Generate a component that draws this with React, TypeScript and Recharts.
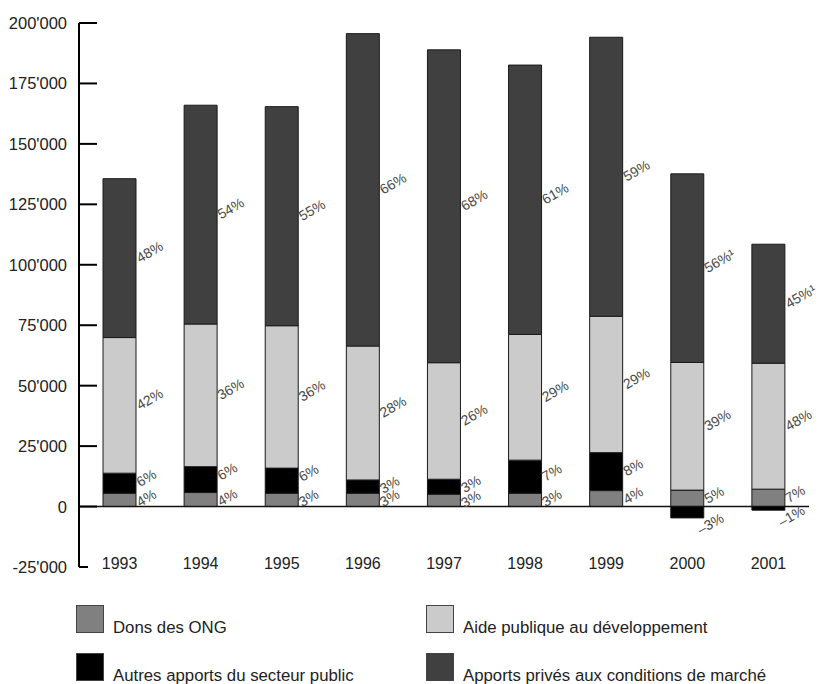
import { Bar, BarChart, LabelList, Legend, ReferenceLine, XAxis, YAxis } from "recharts";

// Flux financiers vers les pays en développement (en millions)
const years = ["1993", "1994", "1995", "1996", "1997", "1998", "1999", "2000", "2001"];
const donsOng = [5500, 5800, 5500, 5500, 5100, 5500, 6600, 6800, 7200];
const autresPublic = [8300, 10700, 10400, 5500, 6200, 13700, 15700, -4700, -1500];
const aidePublique = [56100, 59000, 58900, 55400, 48200, 52000, 56400, 52800, 52100];
const apportsPrives = [65700, 90500, 90600, 129200, 129400, 111400, 115400, 78000, 49200];

// parts en % affichées à côté des barres
const donsOngPct = ["4%", "4%", "3%", "3%", "3%", "3%", "4%", "5%", "7%"];
const autresPublicPct = ["6%", "6%", "6%", "3%", "3%", "7%", "8%", "–3%", "–1%"];
const aidePubliquePct = ["42%", "36%", "36%", "28%", "26%", "29%", "29%", "39%", "48%"];
const apportsPrivesPct = ["48%", "54%", "55%", "66%", "68%", "61%", "59%", "56%¹", "45%¹"];

const yTicks = [-25000, 0, 25000, 50000, 75000, 100000, 125000, 150000, 175000, 200000];

const SERIES = [
	{ key: "dons", name: "Dons des ONG", fill: "#808080", values: donsOng },
	{ key: "autres", name: "Autres apports du secteur public", fill: "#000000", values: autresPublic },
	{ key: "aide", name: "Aide publique au développement", fill: "#cbcbcb", values: aidePublique },
	{ key: "prives", name: "Apports privés aux conditions de marché", fill: "#404040", values: apportsPrives },
];

const data = years.map((year, i) => ({
	year,
	dons: donsOng[i],
	autres: autresPublic[i],
	aide: aidePublique[i],
	prives: apportsPrives[i],
	donsPct: donsOngPct[i],
	autresPct: autresPublicPct[i],
	aidePct: aidePubliquePct[i],
	privesPct: apportsPrivesPct[i],
}));

const FONT = "'Liberation Sans', Arial, sans-serif";

const formatThousands = (v: number) =>
	(v < 0 ? "-" : "") + Math.abs(v).toString().replace(/\B(?=(\d{3})+(?!\d))/g, "'");

function YTick(props: any) {
	const { x, y, payload } = props;
	const len = payload.value === yTicks[0] ? 9 : 18;
	return (
		<g>
			<line x1={x} x2={x + len} y1={y} y2={y} stroke="#000" strokeWidth={2} />
			<text x={x - 12} y={y + 6} textAnchor="end" fill="#222" fontSize={16.5} fontFamily={FONT}>
				{formatThousands(payload.value)}
			</text>
		</g>
	);
}

function XTick(props: any) {
	const { x, y, payload } = props;
	return (
		<text x={x} y={y + 2} textAnchor="middle" fill="#222" fontSize={16} fontFamily={FONT}>
			{payload.value}
		</text>
	);
}

// étiquette inclinée à droite de chaque segment
function makePctLabel(values: number[]) {
	return (props: any) => {
		const { x, y, width, height, value, index } = props;
		if (value == null) return null;
		const top = Math.min(y, y + height);
		const bottom = Math.max(y, y + height);
		const right = x + width;
		let sx = right + 4;
		// petits segments : étiquette calée sur le haut du segment
		let sy = bottom - top < 30 ? top + 14 : (top + bottom) / 2 + 5;
		if (values[index] < 0) {
			sx = right - 3;
			sy = bottom + 17;
		}
		return (
			<text
				x={sx}
				y={sy}
				transform={`rotate(-30 ${sx} ${sy})`}
				fill="#4a4a4a"
				fontSize={14}
				fontFamily={FONT}
			>
				{value}
			</text>
		);
	};
}

function renderLegend(props: any) {
	const payload = props.payload ?? [];
	return (
		<div style={{ position: "relative", width: 822, height: 684 }}>
			{payload.map((entry: any) => {
				const i = SERIES.findIndex((s) => s.name === entry.value);
				const col = Math.floor(i / 2);
				const row = i % 2;
				return (
					<div
						key={entry.value}
						style={{
							position: "absolute",
							left: 76 + col * 350,
							top: 605 + row * 48,
							display: "flex",
							alignItems: "baseline",
							whiteSpace: "nowrap",
						}}
					>
						<span
							style={{
								display: "inline-block",
								width: 26,
								height: 26,
								background: SERIES[i].fill,
								border: "1.5px solid #444",
							}}
						/>
						<span
							style={{
								marginLeft: 9,
								fontSize: 16.8,
								lineHeight: 1,
								color: "#222",
								fontFamily: FONT,
							}}
						>
							{entry.value}
						</span>
					</div>
				);
			})}
		</div>
	);
}

export default function App() {
	return (
		<div style={{ position: "absolute", left: 0, top: 0, width: 822, height: 684, background: "#fff" }}>
			<BarChart
				width={822}
				height={684}
				data={data}
				stackOffset="sign"
				margin={{ top: 23, right: 13, bottom: 87, left: 0 }}
			>
				<XAxis
					dataKey="year"
					height={30}
					axisLine={false}
					tickLine={false}
					tickSize={0}
					tickMargin={0}
					tick={<XTick />}
					interval={0}
				/>
				<YAxis
					width={79}
					domain={[-25000, 200000]}
					ticks={yTicks}
					allowDataOverflow
					axisLine={{ stroke: "#000", strokeWidth: 2 }}
					tickLine={false}
					tickSize={0}
					tickMargin={0}
					tick={<YTick />}
					interval={0}
				/>
				<Legend
					layout="horizontal"
					verticalAlign="middle"
					align="center"
					wrapperStyle={{ left: 0, top: 0, width: 822, height: 684, pointerEvents: "none" }}
					content={renderLegend}
				/>
				{SERIES.map((s) => (
					<Bar
						key={s.key}
						dataKey={s.key}
						name={s.name}
						stackId="flux"
						fill={s.fill}
						stroke="#1a1a1a"
						strokeWidth={1}
						barSize={33}
						isAnimationActive={false}
					>
						<LabelList dataKey={`${s.key}Pct`} content={makePctLabel(s.values)} />
					</Bar>
				))}
				<ReferenceLine y={0} stroke="#111" strokeWidth={1.5} />
			</BarChart>
		</div>
	);
}
